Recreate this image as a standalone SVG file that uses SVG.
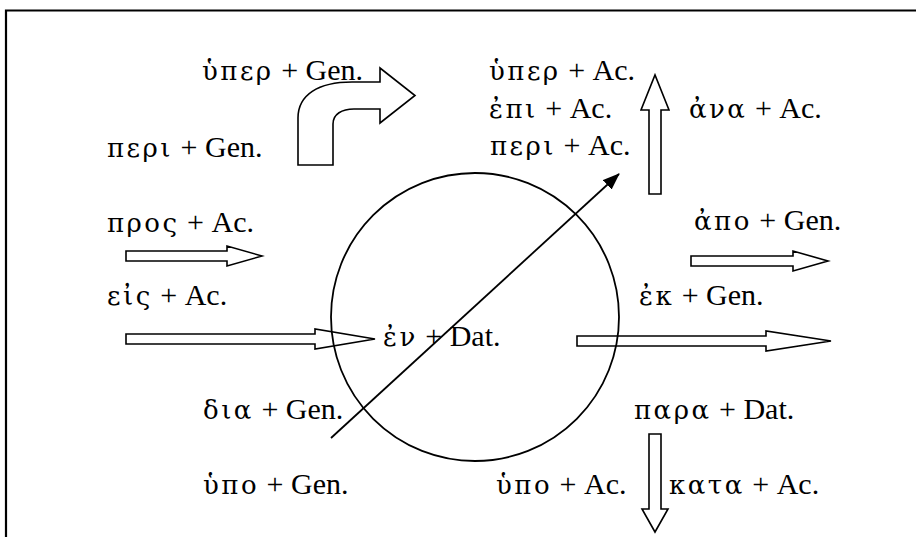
<svg xmlns="http://www.w3.org/2000/svg" width="916" height="537" viewBox="0 0 916 537">
<style>
text{font-family:"Liberation Serif","Times New Roman",serif;font-size:30px;fill:#000}
.g{font-family:"DejaVu Serif","Liberation Serif",serif;font-size:26px;letter-spacing:2.5px}
.blk{fill:#fff;stroke:#000;stroke-width:1.6;stroke-linejoin:miter}
.ln{stroke:#000;stroke-width:1.8;fill:none}
</style>
<defs>
<marker id="ah" viewBox="0 0 17 13" refX="16" refY="6.5" markerWidth="17" markerHeight="13" markerUnits="userSpaceOnUse" orient="auto"><path d="M0,0 L17,6.5 L0,13 Z" fill="#000"/></marker>
</defs>
<rect width="916" height="537" fill="#fff"/>
<path id="frame" d="M6,545 V10.5 H925" fill="none" stroke="#000" stroke-width="2.2"/>
<g id="connectors">
<path class="blk" d="M298,165 L298,118 C298,95 318,82 352,82 L380,82 L380,68 L415,95.5 L380,123 L380,109 L354,109 C342,109 333,114 333,124 L333,165 Z"/>
<polygon class="blk" points="126,251 227,251 227,246 262,256 227,266 227,261 126,261"/>
<polygon class="blk" points="126,334 315,334 315,329 375,339 315,349 315,344 126,344"/>
<polygon class="blk" points="691,256 793,256 793,251 828,261 793,271 793,266 691,266"/>
<polygon class="blk" points="577,336 766,336 766,331 831,341 766,351 766,346 577,346"/>
<polygon class="blk" points="649,194 649,110 641,110 655,75 669,110 661,110 661,194"/>
<polygon class="blk" points="649,434 661,434 661,509 668,509 655,532 642,509 649,509"/>
<line class="ln" x1="331" y1="438" x2="619" y2="174" marker-end="url(#ah)" stroke-width="1.6"/>
</g>
<g id="circle"><circle class="ln" cx="475" cy="317" r="144"/></g>
<g id="n-hyper-gen"><text x="202" y="80"><tspan class="g">ὑπερ</tspan> + Gen.</text></g>
<g id="n-peri-gen"><text x="107" y="157"><tspan class="g">περι</tspan> + Gen.</text></g>
<g id="n-hyper-ac"><text x="489" y="80"><tspan class="g">ὑπερ</tspan> + Ac.</text></g>
<g id="n-epi-ac"><text x="489" y="118"><tspan class="g">ἐπι</tspan> + Ac.</text></g>
<g id="n-peri-ac"><text x="490" y="155"><tspan class="g">περι</tspan> + Ac.</text></g>
<g id="n-ana-ac"><text x="689" y="118"><tspan class="g">ἀνα</tspan> + Ac.</text></g>
<g id="n-pros-ac"><text x="107" y="232"><tspan class="g">προς</tspan> + Ac.</text></g>
<g id="n-eis-ac"><text x="107" y="305"><tspan class="g">εἰς</tspan> + Ac.</text></g>
<g id="n-apo-gen"><text x="694" y="230"><tspan class="g">ἀπο</tspan> + Gen.</text></g>
<g id="n-ek-gen"><text x="639" y="305"><tspan class="g">ἐκ</tspan> + Gen.</text></g>
<g id="n-en-dat"><text x="383" y="346"><tspan class="g">ἐν</tspan> + Dat.</text></g>
<g id="n-dia-gen"><text x="203" y="419"><tspan class="g">δια</tspan> + Gen.</text></g>
<g id="n-para-dat"><text x="634" y="419"><tspan class="g">παρα</tspan> + Dat.</text></g>
<g id="n-hypo-gen"><text x="203" y="494"><tspan class="g">ὑπο</tspan> + Gen.</text></g>
<g id="n-hypo-ac"><text x="496" y="494"><tspan class="g">ὑπο</tspan> + Ac.</text></g>
<g id="n-kata-ac"><text x="669" y="494"><tspan class="g">κατα</tspan> + Ac.</text></g>
</svg>
